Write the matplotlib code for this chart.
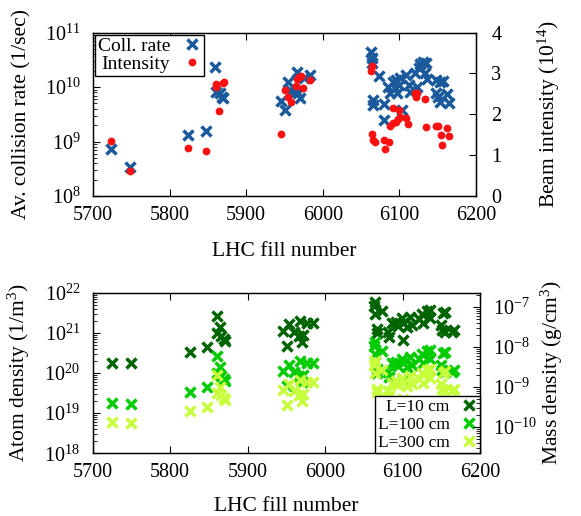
import matplotlib

matplotlib.use('Agg')
import matplotlib.pyplot as plt
from matplotlib.lines import Line2D
from matplotlib.ticker import FixedLocator, LogLocator, MultipleLocator

plt.rcParams['font.family'] = ['Liberation Serif', 'DejaVu Serif']
plt.rcParams['mathtext.fontset'] = 'custom'
plt.rcParams['mathtext.rm'] = 'Liberation Serif'
plt.rcParams['mathtext.it'] = 'Liberation Serif:italic'
plt.rcParams['font.size'] = 14.5
plt.rcParams['axes.labelsize'] = 15.5

BLUE = '#1a5a9c'
RED = '#ff1010'
GREENS = ['#006400', '#00cc00', '#c8ff3c']

# collision rate (1/sec)
fill_rate = [
    5724, 5748, 5824, 5848, 5859, 5861, 5866, 5868, 5870,
    5945, 5951, 5954, 5959, 5964, 5966, 5968, 5970, 5975, 5983,
    6063, 6064, 6064, 6073, 6066, 6066, 6080, 6080, 6085, 6088,
    6091, 6094, 6096, 6097, 6100, 6101, 6103, 6109, 6112, 6114,
    6120, 6123, 6125, 6127, 6131, 6135, 6133, 6136, 6148, 6153,
    6157, 6148, 6150, 6153, 6162, 6165,
]
rate_1e9 = [
    0.72, 0.34, 1.3, 1.55, 23.7, 8.2, 7.7, 6.6, 6.2,
    5.5, 3.8, 12.6, 8.5, 8.2, 18.6, 7.9, 6.2, 14.8, 16.6,
    44.7, 33.9, 27.5, 15.8, 5.8, 4.7, 4.9, 2.5, 10.2, 7.7,
    12.6, 9.5, 13.5, 7.7, 11.0, 14.5, 3.8, 16.6, 11.0, 8.2,
    17.8, 10.2, 22.4, 26.3, 29.5, 28.2, 17.8, 13.8, 13.5, 12.6,
    13.2, 7.9, 6.6, 5.4, 7.4, 5.1,
]

# beam intensity (1e14)
fill_int = [
    5724, 5748, 5824, 5848, 5860, 5861, 5864, 5870, 5871,
    5945, 5951, 5954, 5959, 5965, 5966, 5969, 5971, 5974, 5983,
    6063, 6064, 6064, 6065, 6068, 6080, 6081, 6086, 6088, 6092,
    6092, 6096, 6098, 6100, 6101, 6109, 6111, 6120, 6123, 6122,
    6133, 6135, 6148, 6151, 6154, 6155, 6162, 6165,
]
intensity = [
    1.35, 0.62, 1.18, 1.11, 2.74, 2.68, 2.07, 2.76, 2.79,
    1.51, 2.6, 2.43, 2.31, 2.7, 2.87, 2.92, 2.95, 2.64, 2.84,
    3.07, 3.19, 1.51, 1.37, 1.31, 1.37, 1.14, 1.31, 1.72, 2.15,
    1.78, 1.82, 1.88, 2.11, 1.93, 1.9, 1.76, 2.53, 2.52, 2.42,
    2.37, 1.7, 1.72, 1.72, 1.5, 1.25, 1.66, 1.47,
]

# atom density for L=10 cm (1e20 /m^3), lower panel
fill_dens = [
    5725, 5749, 5825, 5847, 5860, 5864, 5861, 5865, 5870, 5871,
    5945, 5951, 5954, 5960, 5966, 5967, 5970, 5971, 5976, 5985,
    6065, 6063, 6065, 6073, 6067, 6067, 6082, 6081, 6086, 6091,
    6094, 6099, 6101, 6101, 6106, 6110, 6112, 6121, 6125, 6127,
    6132, 6135, 6136, 6149, 6152, 6155, 6151, 6155, 6164, 6166,
]
dens_10cm_1e20 = [
    1.81, 1.74, 3.39, 4.37, 26.9, 13.8, 9.8, 8.3, 7.2, 6.3,
    11.2, 4.7, 16.2, 10.7, 8.5, 20.0, 6.0, 8.9, 17.8, 17.8,
    60.3, 46.8, 29.5, 35.5, 12.3, 10.0, 7.9, 10.7, 17.4, 19.1,
    14.8, 22.9, 17.4, 6.6, 14.1, 25.1, 15.8, 21.9, 29.5, 17.4,
    35.5, 37.2, 22.9, 15.8, 30.9, 33.9, 11.7, 10.7, 10.7, 11.7,
]
lengths_cm = [10, 100, 300]

# log10 offset between atom density (1/m^3) and mass density (g/cm^3) axes
MASS_OFFSET = -28.651


def style_axis(ax):
    ax.tick_params(which='both', direction='in', top=True)
    ax.tick_params(which='major', length=5, width=0.8)
    ax.tick_params(which='minor', length=3, width=0.6)
    ax.tick_params(axis='x', pad=7)
    ax.tick_params(axis='y', pad=9)
    for spine in ax.spines.values():
        spine.set_linewidth(1.0)


def log_ticks(axis, decades):
    axis.set_major_locator(FixedLocator([10.0 ** d for d in decades]))
    axis.set_minor_locator(LogLocator(base=10, subs=range(2, 10), numticks=10))


def plot_top(fig):
    ax = fig.add_axes([0.1601, 0.6202, 0.6592, 0.3165])
    ax.plot(fill_rate, [r * 1e9 for r in rate_1e9], 'x', color=BLUE,
            ms=6.5, mew=2.5, zorder=3)
    ax.set_yscale('log')
    ax.set_xlim(5700, 6200)
    ax.set_ylim(1e8, 1e11)
    ax.xaxis.set_major_locator(MultipleLocator(100))
    log_ticks(ax.yaxis, range(8, 12))
    ax.set_xlabel('LHC fill number')
    ax.set_ylabel('Av. collision rate (1/sec)')
    ax.xaxis.set_label_coords(0.5, -0.28)
    ax.yaxis.set_label_coords(-0.16, 0.5)
    style_axis(ax)
    ax.tick_params(axis='y', which='both', right=False)

    ax2 = ax.twinx()
    ax2.plot(fill_int, intensity, 'o', color=RED, ms=5.6, mec='none')
    ax2.set_ylim(0, 4)
    ax2.yaxis.set_major_locator(MultipleLocator(1))
    ax2.tick_params(direction='in', length=5, width=0.8, pad=11)
    ax2.set_ylabel('Beam intensity (10$^{14}$)')
    ax2.yaxis.set_label_coords(1.155, 0.5)

    handles = [
        Line2D([], [], ls='none', marker='x', color=BLUE, ms=6.5, mew=2.5),
        Line2D([], [], ls='none', marker='o', color=RED, ms=5.6, mec='none'),
    ]
    leg = ax2.legend(handles, ['Coll. rate', 'Intensity'], loc='upper left',
                     markerfirst=False, fontsize=14, fancybox=False,
                     framealpha=1, edgecolor='black', handlelength=1.0,
                     handletextpad=0.6, borderpad=0.15, labelspacing=0.0,
                     borderaxespad=0.1)
    leg.get_frame().set_linewidth(1.0)


def plot_bottom(fig):
    ax = fig.add_axes([0.1596, 0.1215, 0.6666, 0.3112])
    for length, color in zip(lengths_cm, GREENS):
        dens = [n * 1e20 * 10 / length for n in dens_10cm_1e20]
        ax.plot(fill_dens, dens, 'x', color=color, ms=6.5, mew=2.5,
                label=f'L={length} cm')
    ax.set_yscale('log')
    ax.set_xlim(5700, 6200)
    ax.set_ylim(1e18, 1e22)
    ax.xaxis.set_major_locator(MultipleLocator(100))
    log_ticks(ax.yaxis, range(18, 23))
    ax.set_xlabel('LHC fill number')
    ax.set_ylabel('Atom density (1/m$^3$)')
    ax.xaxis.set_label_coords(0.5, -0.27)
    ax.yaxis.set_label_coords(-0.157, 0.5)
    style_axis(ax)
    ax.tick_params(axis='y', which='both', right=False)

    ax2 = ax.twinx()
    ax2.set_yscale('log')
    ax2.set_ylim(10 ** (18 + MASS_OFFSET), 10 ** (22 + MASS_OFFSET))
    log_ticks(ax2.yaxis, range(-10, -6))
    ax2.tick_params(which='both', direction='in', pad=9)
    ax2.tick_params(which='major', length=5, width=0.8)
    ax2.tick_params(which='minor', length=3, width=0.6)
    ax2.set_ylabel('Mass density (g/cm$^3$)')
    ax2.yaxis.set_label_coords(1.152, 0.5)

    leg = ax.legend(loc='lower right', markerfirst=False, fontsize=12.5,
                    fancybox=False, framealpha=1, edgecolor='black',
                    handlelength=1.0, handletextpad=0.6, borderpad=0.15,
                    labelspacing=0.1, borderaxespad=0.0)
    leg.get_frame().set_linewidth(1.0)


def main():
    fig = plt.figure(figsize=(5.81, 5.16), dpi=100)
    plot_top(fig)
    plot_bottom(fig)
    fig.savefig('out.png', dpi=100)
    plt.close(fig)


if __name__ == '__main__':
    main()
